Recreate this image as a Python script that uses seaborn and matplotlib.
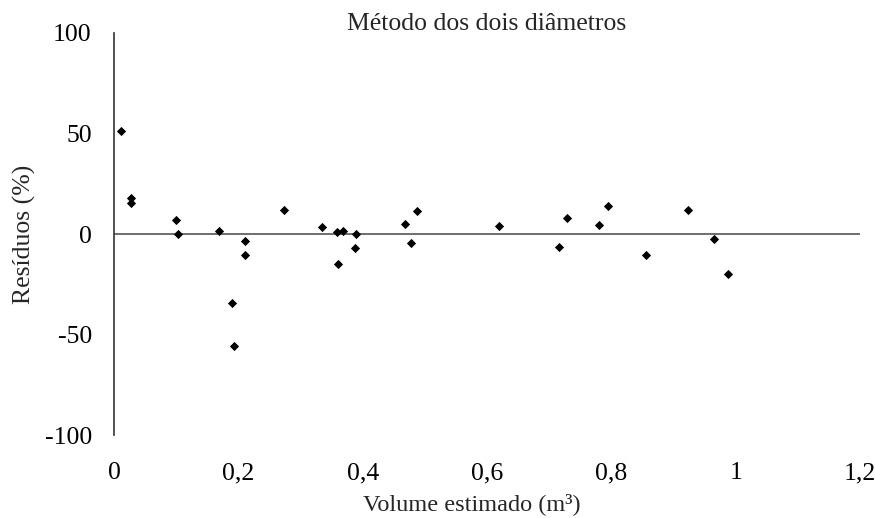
import matplotlib
matplotlib.use("Agg")
import matplotlib.pyplot as plt
import seaborn as sns
import pandas as pd

# Volume estimado (m3) vs resíduos (%) - método dos dois diâmetros
volume = [0.012, 0.028, 0.027, 0.099, 0.103, 0.169, 0.211, 0.211, 0.190, 0.193,
          0.273, 0.334, 0.359, 0.369, 0.390, 0.388, 0.361, 0.468, 0.487, 0.478,
          0.620, 0.728, 0.716, 0.780, 0.795, 0.855, 0.923, 0.965, 0.987]
residuos = [51.1, 18.0, 15.3, 7.1, -0.2, 1.6, -3.4, -10.5, -34.2, -55.5,
            12.0, 3.4, 1.1, 1.6, -0.2, -6.9, -14.8, 5.2, 11.2, -4.4,
            3.9, 8.2, -6.4, 4.6, 13.7, -10.5, 11.8, -2.7, -19.7]
x_ticks = [0, 0.2, 0.4, 0.6, 0.8, 1.0, 1.2]
x_labels = ["0", "0,2", "0,4", "0,6", "0,8", "1", "1,2"]
y_ticks = [-100, -50, 0, 50, 100]

df = pd.DataFrame({"Volume": volume, "Residuos": residuos})

sns.set_style("white")
plt.rcParams["font.family"] = ["Liberation Serif", "DejaVu Serif"]
plt.rcParams["axes.unicode_minus"] = False

fig = plt.figure(figsize=(8.75, 5.18), dpi=100)
ax = fig.add_axes([0.1303, 0.1602, 0.8526, 0.7761])

sns.scatterplot(data=df, x="Volume", y="Residuos", marker="D", s=22,
                color="black", linewidth=0, ax=ax)
ax.axhline(0, color="#555555", linewidth=1.2, zorder=0)

ax.set_xlim(0, 1.2)
ax.set_ylim(-100, 100)
ax.set_xticks(x_ticks)
ax.set_xticklabels(x_labels)
ax.set_yticks(y_ticks)
ax.tick_params(axis="both", length=0, labelsize=18.5, colors="black")
ax.tick_params(axis="y", pad=16)
ax.tick_params(axis="x", pad=19.5)

for side in ["top", "right", "bottom"]:
    ax.spines[side].set_visible(False)
ax.spines["left"].set_color("#333333")
ax.spines["left"].set_linewidth(1.2)

ax.set_title("Método dos dois diâmetros", fontsize=18.5, pad=2.5)
ax.set_xlabel("Volume estimado (m³)", fontsize=17.5)
ax.set_ylabel("Resíduos (%)", fontsize=18.5)
ax.xaxis.set_label_coords(0.48, -0.145)
ax.yaxis.set_label_coords(-0.105, 0.5)

fig.savefig("out.png", dpi=100)
